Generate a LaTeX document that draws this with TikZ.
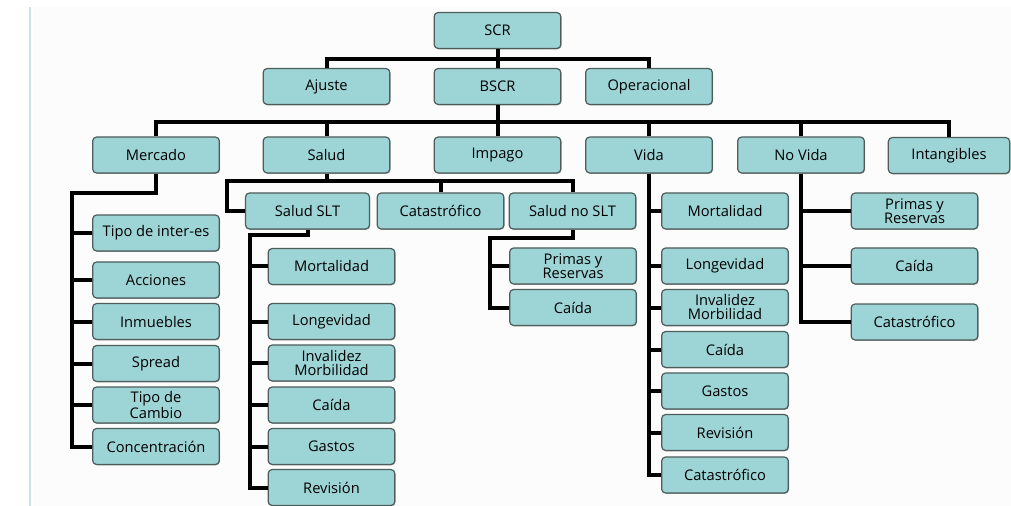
\documentclass[tikz,border=0pt]{standalone}
\usepackage{fontspec}
\setmainfont{Open Sans}
\usepackage{tikz}
\usetikzlibrary{positioning,calc,shadows}
\definecolor{boxfill}{RGB}{157,212,214}
\definecolor{boxline}{RGB}{78,92,92}
\definecolor{edgeline}{RGB}{200,228,232}

\begin{document}
\begin{tikzpicture}[x=0.75pt, y=-0.75pt,
    box/.style={rectangle, rounded corners=3pt, draw=boxline, line width=0.9pt, fill=boxfill,
      minimum width=95pt, minimum height=27pt, inner sep=1pt, align=center,
      font=\fontsize{11}{10.5}\selectfont,
      drop shadow={shadow xshift=0.5pt, shadow yshift=-0.6pt, opacity=0.35, fill=black}},
    link/.style={draw=black, line width=3pt}]
   \useasboundingbox (0,0) rectangle (1011,506);
   \fill[black!1] (33,7) rectangle (1011,506);
   \draw[edgeline, line width=1.5pt] (30,7) -- (30,506);

   % top levels
   \node[box] (scr) at (497.5,30.5) {SCR};
   \node[box] (aju) at (326.5,86.5) {Ajuste};
   \node[box] (bscr) at (497.5,86.5) {BSCR};
   \node[box] (ope) at (649,86.5) {Operacional};

   \node[box] (mer) at (156,155) {Mercado};
   \node[box] (sal) at (326.5,155) {Salud};
   \node[box] (imp) at (497.5,155) {Impago};
   \node[box] (vid) at (649,155) {Vida};
   \node[box] (nov) at (801,155) {No Vida};
   \node[box, minimum width=91pt] (int) at (949,155.5) {Intangibles};

   % mercado
   \node[box] (m1) at (156,233) {Tipo de inter-es};
   \node[box] (m2) at (156,280) {Acciones};
   \node[box] (m3) at (156,321.5) {Inmuebles};
   \node[box] (m4) at (156,363.5) {Spread};
   \node[box] (m5) at (156,405) {Tipo de\\Cambio};
   \node[box] (m6) at (156,446.5) {Concentración};

   % salud
   \node[box, minimum width=93pt] (sslt) at (307.5,211) {Salud SLT};
   \node[box] (scat) at (440.5,211) {Catastrófico};
   \node[box] (snslt) at (572.5,211) {Salud no SLT};

   \node[box] (t1) at (331.5,266.5) {Mortalidad};
   \node[box] (t2) at (331.5,321.5) {Longevidad};
   \node[box] (t3) at (331.5,363) {Invalidez\\Morbilidad};
   \node[box] (t4) at (331.5,405) {Caída};
   \node[box] (t5) at (331.5,446.5) {Gastos};
   \node[box] (t6) at (331.5,487.5) {Revisión};

   \node[box] (u1) at (573,266) {Primas y\\Reservas};
   \node[box] (u2) at (573,307.5) {Caída};

   % vida
   \node[box] (v1) at (725,211) {Mortalidad};
   \node[box] (v2) at (725,266) {Longevidad};
   \node[box] (v3) at (725,307.5) {Invalidez\\Morbilidad};
   \node[box] (v4) at (725,349.5) {Caída};
   \node[box] (v5) at (725,391) {Gastos};
   \node[box] (v6) at (725,432.5) {Revisión};
   \node[box] (v7) at (725,475) {Catastrófico};

   % no vida
   \node[box] (n1) at (914.5,211) {Primas y\\Reservas};
   \node[box] (n2) at (914.5,266) {Caída};
   \node[box] (n3) at (914.5,322) {Catastrófico};

   % bends
   \coordinate (mbus) at (72,193);
   \coordinate (tbus) at (250,235);
   \coordinate (ubus) at (490,238);

   \draw[link] (scr) -- (bscr);
   \draw[link] (aju.north) -- ++(0,-9) -| (ope.north);
   \draw[link] (bscr) -- (imp);
   \draw[link] (mer.north) -- ++(0,-14) -| (int.north);
   \draw[link] (sal.north) -- ++(0,-14);
   \draw[link] (vid.north) -- ++(0,-14);
   \draw[link] (nov.north) -- ++(0,-14);

   \draw[link] (mer.south) |- (mbus) |- (m6.west);
   \draw[link] (m1.west -| mbus) -- (m1.west);
   \draw[link] (m2.west -| mbus) -- (m2.west);
   \draw[link] (m3.west -| mbus) -- (m3.west);
   \draw[link] (m4.west -| mbus) -- (m4.west);
   \draw[link] (m5.west -| mbus) -- (m5.west);

   \draw[link] (sslt.west) -- ++(-18,0) |- ([yshift=8.25pt]snslt.north) -- (snslt.north);
   \draw[link] (sal.south) -- ++(0,9);
   \draw[link] (scat.north) -- ++(0,-11);

   \draw[link] (sslt.south) |- (tbus) |- (t6.west);
   \draw[link] (t1.west -| tbus) -- (t1.west);
   \draw[link] (t2.west -| tbus) -- (t2.west);
   \draw[link] (t3.west -| tbus) -- (t3.west);
   \draw[link] (t4.west -| tbus) -- (t4.west);
   \draw[link] (t5.west -| tbus) -- (t5.west);

   \draw[link] (snslt.south) |- (ubus) |- (u2.west);
   \draw[link] (u1.west -| ubus) -- (u1.west);

   \draw[link] (vid.south) |- (v7.west);
   \draw[link] (v1.west -| vid.south) -- (v1.west);
   \draw[link] (v2.west -| vid.south) -- (v2.west);
   \draw[link] (v3.west -| vid.south) -- (v3.west);
   \draw[link] (v4.west -| vid.south) -- (v4.west);
   \draw[link] (v5.west -| vid.south) -- (v5.west);
   \draw[link] (v6.west -| vid.south) -- (v6.west);

   \draw[link] (nov.south) |- (n3.west);
   \draw[link] (n1.west -| nov.south) -- (n1.west);
   \draw[link] (n2.west -| nov.south) -- (n2.west);
\end{tikzpicture}
\end{document}
